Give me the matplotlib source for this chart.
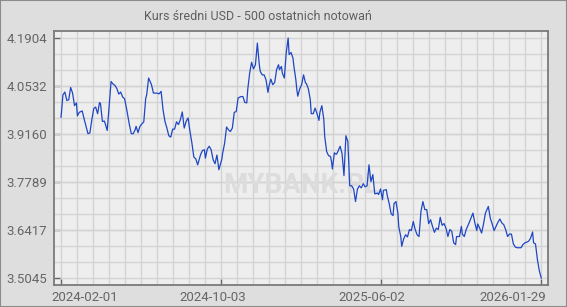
import matplotlib
matplotlib.use("Agg")
import matplotlib.pyplot as plt
import matplotlib.transforms as mtransforms
from matplotlib.patches import Rectangle
import numpy as np

# notowania (numer notowania, kurs sredni USD)
day = [0, 2, 4, 6, 8, 10, 12, 14, 16, 17, 19, 22, 24, 26, 28, 30, 32, 34, 36, 38,
       40, 41, 43, 45, 46, 48, 50, 52, 54, 56, 58, 60, 62, 64, 66, 68, 69, 71, 73, 75,
       77, 78, 80, 82, 84, 86, 88, 89, 91, 94, 96, 99, 102, 104, 106, 108, 110, 112, 114, 116,
       118, 120, 122, 124, 126, 128, 130, 132, 134, 136, 138, 140, 142, 145, 147, 149, 150, 152, 154, 156,
       158, 160, 162, 164, 167, 168, 170, 172, 174, 176, 178, 180, 182, 184, 187, 189, 191, 193, 194, 196,
       198, 200, 202, 204, 206, 207, 209, 211, 213, 215, 216, 218, 220, 222, 224, 226, 227, 229, 230, 232,
       234, 236, 237, 239, 241, 242, 244, 245, 246, 248, 250, 252, 254, 255, 257, 259, 260, 262, 264, 266,
       268, 269, 271, 273, 274, 276, 278, 280, 281, 282, 284, 286, 287, 290, 292, 294, 296, 298, 300, 302,
       304, 306, 308, 310, 312, 314, 316, 318, 320, 322, 324, 326, 329, 330, 332, 334, 335, 338, 339, 341,
       343, 345, 346, 348, 350, 351, 353, 354, 356, 358, 360, 362, 364, 366, 368, 370, 372, 374, 376, 378,
       380, 382, 384, 386, 388, 390, 392, 394, 396, 398, 400, 402, 404, 406, 408, 410, 411, 414, 416, 417,
       419, 421, 424, 426, 428, 430, 432, 433, 435, 437, 439, 441, 444, 446, 448, 450, 452, 454, 456, 458,
       460, 462, 464, 466, 468, 470, 472, 474, 476, 478, 480, 482, 484, 486, 488, 490, 491, 493, 495, 497,
       499]
usd = [3.964, 4.028, 4.036, 4.012, 4.014, 4.049, 4.033, 3.997, 4.005, 3.968, 3.978, 3.982, 3.959, 3.938, 3.917, 3.919, 3.957, 3.989, 3.993, 3.974,
       4.006, 4.003, 3.952, 3.953, 3.945, 3.926, 3.995, 4.066, 4.059, 4.055, 4.046, 4.030, 4.036, 4.022, 4.017, 3.990, 3.974, 3.943, 3.917, 3.917,
       3.928, 3.938, 3.920, 3.938, 3.945, 3.951, 4.018, 4.028, 4.076, 4.057, 4.033, 4.033, 4.031, 4.038, 3.985, 3.952, 3.933, 3.911, 3.907, 3.930,
       3.930, 3.951, 3.943, 3.957, 3.979, 3.933, 3.952, 3.962, 3.923, 3.890, 3.850, 3.845, 3.828, 3.857, 3.869, 3.871, 3.847, 3.873, 3.881, 3.871,
       3.843, 3.831, 3.856, 3.814, 3.843, 3.862, 3.890, 3.936, 3.928, 3.923, 3.933, 3.978, 3.980, 4.019, 4.023, 4.023, 4.006, 4.005, 4.043, 4.090,
       4.121, 4.102, 4.114, 4.176, 4.114, 4.095, 4.085, 4.085, 4.071, 4.035, 4.052, 4.073, 4.057, 4.063, 4.100, 4.114, 4.100, 4.109, 4.090, 4.076,
       4.148, 4.1904, 4.143, 4.149, 4.133, 4.109, 4.071, 4.043, 4.024, 4.045, 4.057, 4.085, 4.062, 4.060, 4.045, 4.014, 3.974, 3.974, 3.990, 3.974,
       3.955, 3.978, 3.997, 3.959, 3.909, 3.866, 3.854, 3.852, 3.838, 3.816, 3.862, 3.858, 3.862, 3.881, 3.860, 3.797, 3.911, 3.895, 3.768, 3.768,
       3.759, 3.723, 3.759, 3.768, 3.762, 3.774, 3.765, 3.768, 3.828, 3.780, 3.800, 3.745, 3.747, 3.743, 3.759, 3.728, 3.755, 3.757, 3.740, 3.717,
       3.688, 3.683, 3.717, 3.723, 3.690, 3.650, 3.623, 3.595, 3.616, 3.628, 3.622, 3.643, 3.640, 3.666, 3.643, 3.628, 3.623, 3.695, 3.723, 3.700,
       3.700, 3.660, 3.671, 3.652, 3.635, 3.647, 3.643, 3.678, 3.655, 3.660, 3.647, 3.623, 3.643, 3.638, 3.605, 3.600, 3.623, 3.623, 3.652, 3.630,
       3.623, 3.643, 3.662, 3.676, 3.690, 3.662, 3.640, 3.659, 3.647, 3.633, 3.659, 3.690, 3.709, 3.676, 3.659, 3.640, 3.652, 3.664, 3.673, 3.662,
       3.657, 3.643, 3.623, 3.630, 3.630, 3.602, 3.593, 3.591, 3.591, 3.591, 3.600, 3.605, 3.607, 3.610, 3.619, 3.636, 3.605, 3.602, 3.557, 3.525,
       3.5045]

ytick_labels = ["3.5045", "3.6417", "3.7789", "3.9160", "4.0532", "4.1904"]
xtick_labels = ["2024-02-01", "2024-10-03", "2025-06-02", "2026-01-29"]
title = "Kurs średni USD - 500 ostatnich notowań"

plt.rcParams['font.family'] = ['Roboto', 'DejaVu Sans']

fig = plt.figure(figsize=(5.67, 3.07), dpi=100, facecolor="#dedede")
fig.patches.append(Rectangle((0, 0), 1, 1, transform=fig.transFigure, fill=False,
                             edgecolor="#8c8c8c", linewidth=1.5))
ax = fig.add_axes([54 / 567, 1 - 285 / 307, 494 / 567, 254 / 307])
ax.set_facecolor("#eeeeee")

yt = [float(s) for s in ytick_labels]
step = (yt[-1] - yt[0]) / 5
ax.set_ylim(yt[0] - step * 7 / 48, yt[-1] + step * 7 / 48)
ax.set_xlim(-7.3, 506)

xt = [0, 499 / 3, 2 * 499 / 3, 499]
ax.set_yticks(yt)
ax.set_yticklabels(ytick_labels)
ax.set_yticks(np.arange(yt[0], yt[-1] + 1e-6, step / 3), minor=True)
ax.set_xticks(xt)
ax.set_xticklabels(xtick_labels)
ax.set_xticks(np.arange(0, 500, 499 / 30), minor=True)
ax.grid(True, which="both", color="#d3d3d3", linewidth=1.0)
ax.set_axisbelow(True)

ax.tick_params(which="major", direction="in", length=4, color="#666666",
               labelcolor="#666666", labelsize=9.5, width=1)
ax.tick_params(which="minor", length=0)
ax.tick_params(axis="y", pad=5)
ax.tick_params(axis="x", pad=4)
for s in ax.spines.values():
    s.set_color("#7a7a7a")
    s.set_linewidth(1.3)

# przesuniecia etykiet osi x jak w oryginale
shifts = [24, -8, -9, -28]
for lab, dx in zip(ax.get_xticklabels(), shifts):
    lab.set_transform(lab.get_transform() + mtransforms.ScaledTranslation(dx / 100, 0, fig.dpi_scale_trans))

ax.text(0.50, 0.39, "MYBANK.PL", transform=ax.transAxes, ha="center", va="center",
        fontsize=20, fontweight="bold", color="#dcdcdc", zorder=1)

ax.plot(day, usd, color="#1f47c4", linewidth=0.9, zorder=3)

fig.text(258 / 567, 1 - 17 / 307, title, ha="center", va="center", fontsize=9, color="#5f5f5f")

fig.savefig("out.png", dpi=100, facecolor=fig.get_facecolor())
